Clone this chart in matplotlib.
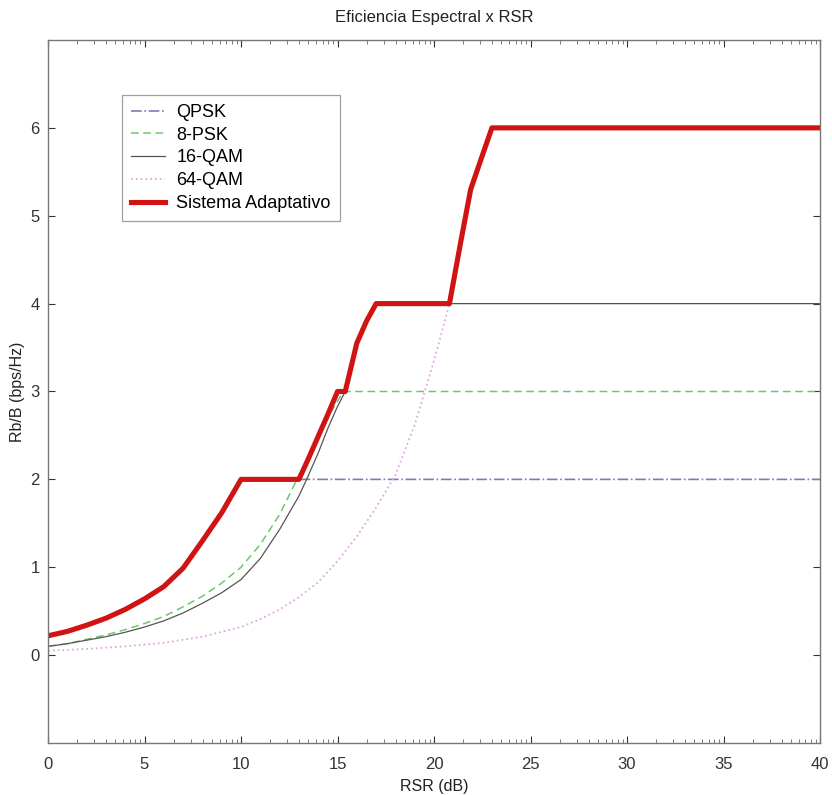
import numpy as np
import matplotlib
matplotlib.use("Agg")
import matplotlib.pyplot as plt
from matplotlib.ticker import FixedLocator

plt.rcParams['font.family'] = ['Liberation Sans', 'DejaVu Sans']

# ---- data ----
qpsk_x = [0, 1, 2, 3, 4, 5, 6, 7, 8, 9, 10, 40]
qpsk_y = [0.22, 0.27, 0.34, 0.42, 0.52, 0.64, 0.78, 0.99, 1.30, 1.62, 2.0, 2.0]

psk8_x = [0, 1, 2, 3, 4, 5, 6, 7, 8, 9, 10, 11, 12, 12.9, 13.5, 14.1, 14.7, 15.3, 40]
psk8_y = [0.10, 0.13, 0.18, 0.23, 0.29, 0.36, 0.44, 0.55, 0.67, 0.82, 1.00, 1.26, 1.60, 2.00,
          2.26, 2.52, 2.78, 3.00, 3.00]

qam16_x = [0, 1, 2, 3, 4, 5, 6, 7, 8, 9, 10, 11, 12, 13, 13.4, 14, 14.5, 15, 15.4, 16.0, 16.5, 17.0, 40]
qam16_y = [0.10, 0.13, 0.17, 0.21, 0.26, 0.32, 0.39, 0.48, 0.59, 0.71, 0.86, 1.10, 1.43, 1.81,
           2.00, 2.30, 2.58, 2.83, 3.00, 3.55, 3.80, 4.00, 4.00]

qam64_x = [0, 2, 4, 6, 8, 10, 11, 12, 13, 14, 15, 16, 17, 18, 19, 20, 20.8, 21.4, 21.9, 22.4, 23.0, 40]
qam64_y = [0.05, 0.07, 0.10, 0.14, 0.21, 0.32, 0.41, 0.52, 0.66, 0.83, 1.07, 1.35, 1.68, 2.05,
           2.62, 3.35, 4.00, 4.72, 5.30, 5.62, 6.00, 6.00]

adapt_x = [0, 1, 2, 3, 4, 5, 6, 7, 8, 9, 10, 13, 13.5, 14, 14.5, 15, 15.4, 16, 16.5, 17,
           20.8, 21.4, 21.9, 22.4, 23, 40]
adapt_y = [0.22, 0.27, 0.34, 0.42, 0.52, 0.64, 0.78, 0.99, 1.30, 1.62, 2.0, 2.0, 2.24, 2.49,
           2.74, 3.0, 3.0, 3.55, 3.80, 4.0, 4.0, 4.72, 5.3, 5.62, 6.0, 6.0]

labels = ['QPSK', '8-PSK', '16-QAM', '64-QAM', 'Sistema Adaptativo']
x_ticks = [0, 5, 10, 15, 20, 25, 30, 35, 40]
y_ticks = [0, 1, 2, 3, 4, 5, 6]

# ---- figure ----
fig = plt.figure(figsize=(8.32, 7.95), dpi=100)
ax = fig.add_axes([0.0577, 0.0654, 0.9279, 0.8843])

ax.plot(qpsk_x, qpsk_y, linestyle='-.', color='#7c7cb8', lw=1.2, label=labels[0])
ax.plot(psk8_x, psk8_y, linestyle=(0, (5, 3)), color='#6cc86c', lw=1.1, label=labels[1])
ax.plot(qam16_x, qam16_y, linestyle='-', color='#555555', lw=0.9, label=labels[2])
ax.plot(qam64_x, qam64_y, linestyle=':', color='#e0a8e0', lw=1.3, label=labels[3])
ax.plot(adapt_x, adapt_y, linestyle='-', color='#d01414', lw=3.7,
        solid_joinstyle='round', label=labels[4])

ax.set_xlim(0, 40)
ax.set_ylim(-1, 7)
ax.set_xticks(x_ticks)
ax.set_yticks(y_ticks)

minor = []
for k in range(8):
    for m in range(2, 10):
        minor.append(5 * k + 5 * np.log10(m))
ax.xaxis.set_minor_locator(FixedLocator(minor))

ax.tick_params(axis='both', which='major', direction='in', length=5, width=0.8,
               top=True, right=True, labelsize=12, colors='#333333', pad=6)
ax.tick_params(axis='x', which='major', pad=10)
ax.tick_params(axis='x', which='minor', direction='in', length=3, width=0.6,
               top=True, bottom=True, color='#666666')
for s in ax.spines.values():
    s.set_color('#777777')
    s.set_linewidth(1.0)

ax.set_title('Eficiencia Espectral x RSR', fontsize=12, color='#222222', pad=13)
ax.set_xlabel('RSR (dB)', fontsize=11.5, color='#222222', labelpad=5)
ax.set_ylabel('Rb/B (bps/Hz)', fontsize=11.5, color='#222222', labelpad=4)

leg = ax.legend(loc='upper left', bbox_to_anchor=(0.096, 0.922), fontsize=13,
                frameon=True, fancybox=False, edgecolor='#888888',
                handlelength=1.9, handletextpad=0.6, borderpad=0.5,
                labelspacing=0.32, borderaxespad=0)
leg.get_frame().set_linewidth(0.9)

fig.savefig('out.png', dpi=100)
